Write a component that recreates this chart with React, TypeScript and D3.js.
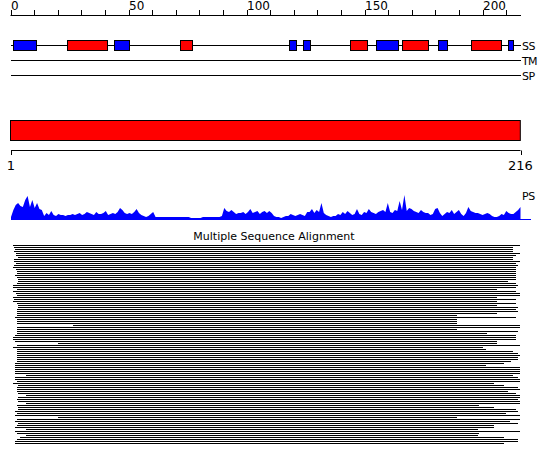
import React from "react";
import * as d3 from "d3";

const W = 550;
const H = 465;
const SEQ_LEN = 216;

const topTicks = d3.range(0, 211, 10);
const topLabels = [0, 50, 100, 150, 200];
const bottomLabels = [1, 216];

// Secondary structure elements: [start, end, type]
const ssStart = [1, 24, 44, 72, 118, 124, 144, 155, 166, 181, 195, 211];
const ssEnd = [11, 41, 50, 77, 121, 127, 151, 164, 177, 185, 208, 213];
const ssType = ["H", "E", "H", "E", "H", "H", "E", "H", "E", "H", "E", "H"];

const trackNames = ["SS", "TM", "SP"];

// Domain bar
const domainStart = [0];
const domainEnd = [216];

// PS profile (one value per residue)
const psValues = [
  3, 10, 15, 17, 14, 13, 20, 24, 13, 20,
  12, 17, 11, 10, 4, 7, 5, 9, 5, 4,
  6, 5, 5, 4, 5, 5, 6, 5, 6, 7,
  5, 6, 8, 7, 6, 5, 8, 6, 6, 7,
  9, 5, 6, 7, 6, 8, 12, 10, 7, 6,
  7, 6, 8, 11, 7, 5, 4, 3, 4, 6,
  8, 3, 3, 3, 3, 3, 3, 3, 3, 3,
  3, 3, 3, 3, 3, 3, 2, 2, 2, 2,
  2, 3, 3, 3, 3, 3, 3, 3, 3, 4,
  12, 9, 8, 10, 8, 6, 7, 7, 8, 6,
  8, 11, 7, 8, 9, 6, 8, 9, 7, 9,
  7, 4, 3, 3, 2, 3, 4, 4, 6, 5,
  4, 5, 6, 5, 4, 8, 8, 11, 7, 10,
  8, 17, 7, 5, 4, 3, 4, 4, 6, 5,
  8, 6, 9, 7, 5, 6, 11, 6, 5, 8,
  7, 11, 8, 7, 6, 8, 9, 10, 8, 17,
  8, 7, 10, 9, 19, 10, 25, 9, 12, 11,
  9, 8, 7, 10, 8, 7, 7, 5, 6, 11,
  12, 7, 4, 6, 8, 7, 10, 6, 8, 10,
  6, 4, 7, 13, 9, 8, 7, 7, 6, 5,
  6, 7, 6, 4, 3, 3, 4, 6, 5, 9,
  7, 6, 6, 8, 10, 13,
];

// Multiple sequence alignment: start / end residue of each aligned sequence
const msaStart = [
  1, 1.5, 2, 1.5, 2.3, 2.3, 3, 1.5, 1.5, 2.3,
  1.5, 1, 2.3, 2.6, 2.6, 2, 2.6, 3.3, 3.3, 2.6,
  1, 1, 2.6, 1, 2.3, 2.6, 1, 1.5, 1, 2.6,
  3.3, 3.3, 2.6, 2.6, 2.6, 2.6, 2, 2.6, 2.6, 2.6,
  26.6, 2.6, 2.6, 2.6, 2.6, 2, 1, 1, 2, 20,
  2.6, 1, 2.6, 2.6, 2.6, 2.6, 2.6, 2.6, 2.6, 2,
  2, 2, 2, 2, 2, 6.6, 2, 2, 2.6, 1,
  3.3, 2.6, 2.6, 2.6, 3.3, 6.6, 3.3, 2.6, 3.3, 6.6,
  2.6, 3.3, 3.3, 2, 2.6, 2, 20, 2.6, 2, 3.3,
  2.6, 2, 6.6, 2, 2.6, 6.6, 4, 2.6, 2, 2,
];
const msaEnd = [
  216, 213, 213, 213, 216, 214, 213, 213, 216, 214,
  215, 214, 214, 214, 214, 214, 214, 214, 211, 214,
  215, 214, 206, 214, 216, 216, 206, 214, 206, 214,
  206, 215, 214, 215, 206, 189, 214, 189, 189, 189,
  216, 216, 189, 215, 202, 214, 214, 214, 206, 206,
  216, 200, 201.5, 213, 215, 216, 215, 215, 212, 209,
  201.5, 216, 216, 216, 216, 213, 215, 216, 216, 205,
  209, 215, 216, 211, 214, 216, 216, 215, 216, 216,
  198.5, 205, 214, 215, 210, 216, 189, 216, 211.5, 215,
  205, 205, 198, 216, 198.5, 198, 209, 215, 215, 209,
];

const ssColor: Record<string, string> = { H: "#0000FF", E: "#FF0000" };

export default function App() {
  const x = d3.scaleLinear().domain([0, SEQ_LEN]).range([10.5, 520.3]);
  const xb = d3.scaleLinear().domain([1, SEQ_LEN]).range([11, 520.5]);

  const yTop = 15.5;
  const trackY = [45.5, 60.5, 75.5];

  const psBase = 220;
  const yPs = d3.scaleLinear().domain([0, 25]).range([psBase, 195]);
  const area = d3
    .area<number>()
    .x((_, i) => xb(i + 1))
    .y0(psBase)
    .y1((d) => yPs(d));

  const msaY0 = 245;
  const rowPitch = 2;

  const font = "'DejaVu Sans', sans-serif";

  return (
    <svg
      width={W}
      height={H}
      style={{ position: "absolute", left: 0, top: 0, background: "#fff" }}
      fontFamily={font}
    >
      <rect x={0} y={0} width={W} height={H} fill="#fff" />

      {/* top axis */}
      <line x1={x(0)} x2={521} y1={yTop} y2={yTop} stroke="#000" />
      {topTicks.map((t) => (
        <line
          key={"t" + t}
          x1={Math.round(x(t)) + 0.5}
          x2={Math.round(x(t)) + 0.5}
          y1={10}
          y2={yTop}
          stroke="#000"
        />
      ))}
      {topLabels.map((t) => (
        <text key={"tl" + t} x={Math.round(x(t))} y={10} fontSize={12} fill="#000">
          {t}
        </text>
      ))}

      {/* tracks */}
      {trackNames.map((n, i) => (
        <g key={n}>
          <line x1={11} x2={521} y1={trackY[i]} y2={trackY[i]} stroke="#000" />
          <text x={522} y={trackY[i] + 4.5} fontSize={11} fill="#000" letterSpacing={-0.6}>
            {n}
          </text>
        </g>
      ))}
      {ssStart.map((s, i) => (
        <rect
          key={"ss" + i}
          x={Math.round(x(s)) + 0.5}
          y={40.5}
          width={Math.round(x(ssEnd[i])) - Math.round(x(s))}
          height={10}
          fill={ssColor[ssType[i]]}
          stroke="#000"
        />
      ))}

      {/* domain */}
      {domainStart.map((s, i) => (
        <rect
          key={"dom" + i}
          x={x(s)}
          y={120.5}
          width={x(domainEnd[i]) - x(s)}
          height={20}
          fill="#FF0000"
          stroke="#000"
        />
      ))}

      {/* bottom axis */}
      <line x1={xb(1)} x2={xb(216)} y1={150.5} y2={150.5} stroke="#000" />
      {bottomLabels.map((b) => (
        <g key={"b" + b}>
          <line x1={Math.round(xb(b)) + 0.5} x2={Math.round(xb(b)) + 0.5} y1={150.5} y2={155} stroke="#000" />
          <text x={xb(b)} y={170} fontSize={13} textAnchor="middle" fill="#000">
            {b}
          </text>
        </g>
      ))}

      {/* PS profile */}
      <path d={area(psValues) || ""} fill="#0000FF" />
      <line x1={11} x2={531} y1={psBase - 0.5} y2={psBase - 0.5} stroke="#0000FF" />
      <text x={522} y={200} fontSize={11} fill="#000" letterSpacing={-0.5}>
        PS
      </text>

      {/* MSA */}
      <text x={274} y={240} fontSize={11} textAnchor="middle" fill="#000">
        Multiple Sequence Alignment
      </text>
      <g shapeRendering="crispEdges">
        {msaStart.map((s, i) => (
          <rect
            key={"m" + i}
            x={x(s)}
            y={msaY0 + i * rowPitch}
            width={x(msaEnd[i]) - x(s)}
            height={1}
            fill="#000"
          />
        ))}
      </g>
    </svg>
  );
}
